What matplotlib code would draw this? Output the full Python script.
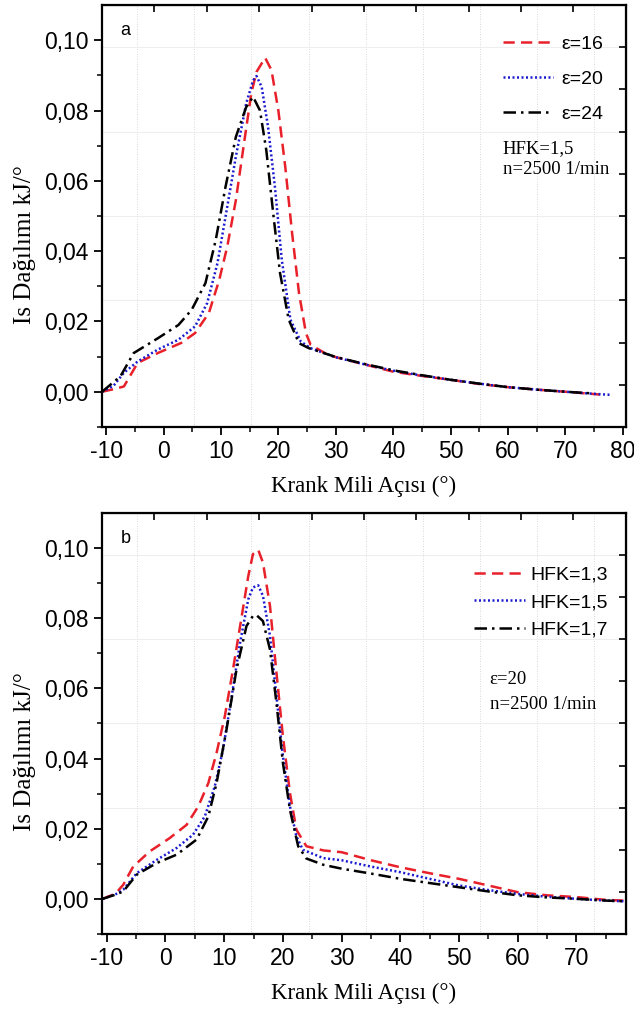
import numpy as np
import matplotlib
matplotlib.use('Agg')
import matplotlib.pyplot as plt

plt.rcParams['axes.unicode_minus'] = False

# panel a : compression ratio
xa_16 = [-10.7, -8.5, -6.9, -4.5, -1.0, 3.1, 5.5, 7.9, 9.7, 11.1, 12.6, 14.1, 15.3, 16.2, 17.7,
         18.8, 20.0, 21.2, 22.4, 23.6, 24.8, 25.6, 28.6, 31, 35, 40, 45, 50, 55, 60, 65, 70, 76]
ya_16 = [0, 0.0008, 0.0015, 0.0082, 0.011, 0.0139, 0.0167, 0.0224, 0.0318, 0.0413, 0.0545, 0.0716,
         0.085, 0.091, 0.095, 0.0915, 0.080, 0.064, 0.045, 0.028, 0.0167, 0.0134, 0.0105, 0.0094,
         0.0078, 0.0057, 0.0045, 0.0034, 0.0022, 0.0013, 0.0006, 0.0, -0.0008]
xa_20 = [-10.7, -8.7, -6.9, -4.5, -1, 2.6, 5.5, 7.6, 9.4, 10.8, 12.6, 14.4, 15.6, 16.2, 17.1, 18.2,
         19.4, 20.6, 22.1, 23.9, 25.6, 30, 35, 40, 45, 50, 55, 60, 65, 70, 75, 78]
ya_20 = [0, 0.0017, 0.0054, 0.0086, 0.012, 0.0148, 0.0186, 0.0252, 0.0366, 0.0498, 0.0669, 0.082,
         0.0886, 0.0898, 0.0867, 0.0754, 0.0583, 0.0375, 0.0205, 0.0143, 0.0124, 0.0098, 0.0078,
         0.006, 0.0046, 0.0034, 0.0023, 0.0013, 0.0006, 0.0, -0.0006, -0.0009]
xa_24 = [-10.7, -7.5, -5.2, -1, 2.6, 4.9, 7.3, 9.1, 10.8, 12.6, 14.4, 15.6, 16.8, 17.9, 19.1, 20.3,
         21.8, 23.6, 25.3, 30, 35, 40, 45, 50, 55, 60, 65, 70, 75]
ya_24 = [0, 0.0044, 0.011, 0.0152, 0.019, 0.0233, 0.0309, 0.0432, 0.0583, 0.0725, 0.081, 0.0839,
         0.080, 0.0687, 0.0508, 0.0337, 0.0205, 0.0138, 0.0124, 0.0099, 0.0079, 0.0061, 0.0047,
         0.0034, 0.0023, 0.0013, 0.0006, 0.0, -0.0005]

# panel b : HFK
xb_13 = [-10.7, -8.5, -7.2, -5.5, -2.7, 0.7, 3.6, 5.6, 7.3, 8.7, 10.1, 11.5, 12.9, 14.1, 14.9, 15.8,
         16.6, 17.8, 18.9, 20.0, 21.2, 22.3, 24.0, 26.9, 30, 35, 40, 45, 50, 55, 60, 65, 70, 75, 78]
yb_13 = [0, 0.0015, 0.004, 0.0092, 0.0135, 0.0173, 0.0211, 0.0264, 0.033, 0.0416, 0.052, 0.0654,
         0.0797, 0.092, 0.0983, 0.0995, 0.0959, 0.0835, 0.0645, 0.0464, 0.0302, 0.0197, 0.015,
         0.0138, 0.0133, 0.011, 0.009, 0.0073, 0.0057, 0.0038, 0.0019, 0.001, 0.0005, -0.0003, -0.0005]
xb_15 = [-10.7, -8.5, -7.2, -4.9, -1.5, 1.9, 4.7, 6.7, 8.4, 9.8, 11.2, 12.7, 14.1, 14.9, 15.8, 16.6,
         17.8, 18.9, 20.0, 21.2, 22.3, 23.4, 26.9, 30, 35, 40, 45, 50, 55, 60, 65, 70, 75, 78]
yb_15 = [0, 0.0013, 0.0026, 0.0073, 0.0111, 0.0145, 0.0183, 0.0235, 0.0321, 0.0426, 0.0569, 0.073,
         0.0854, 0.0888, 0.0894, 0.0864, 0.075, 0.0578, 0.0407, 0.0264, 0.0178, 0.014, 0.0116,
         0.011, 0.0092, 0.0076, 0.0057, 0.0038, 0.0025, 0.0014, 0.0006, 0.0, -0.0005, -0.0007]
xb_17 = [-10.7, -8.5, -7.2, -4.9, -1.5, 1.9, 5.3, 7.3, 8.7, 10.4, 12.1, 13.8, 14.9, 15.5, 16.6, 17.8,
         18.9, 20.0, 21.2, 22.6, 24.0, 26.9, 30, 35, 40, 45, 50, 55, 60, 65, 70, 75, 78]
yb_17 = [0, 0.0012, 0.0021, 0.0069, 0.0102, 0.0126, 0.0169, 0.0235, 0.033, 0.0483, 0.0654, 0.0778,
         0.0807, 0.0809, 0.0792, 0.0711, 0.0559, 0.0388, 0.0254, 0.015, 0.0115, 0.0097, 0.0086,
         0.0072, 0.0057, 0.0045, 0.0033, 0.0021, 0.001, 0.0004, 0.0, -0.0005, -0.0007]

labels_a = ['ε=16', 'ε=20', 'ε=24']
labels_b = ['HFK=1,3', 'HFK=1,5', 'HFK=1,7']
yticks = [0.0, 0.02, 0.04, 0.06, 0.08, 0.10]
ytick_labels = ['0,00', '0,02', '0,04', '0,06', '0,08', '0,10']

colors = ['#e8202a', '#1a1ad0', 'black']
styles = [(0, (4.5, 2.5)), (0, (0.8, 1.0)), (0, (5, 2, 1, 2))]

SANS = 'Liberation Sans'
SERIF = 'Liberation Serif'

fig = plt.figure(figsize=(6.34, 10.14), dpi=100)


def panel(rect, xs, ys, labels, xlim, xticks, tag):
    ax = fig.add_axes(rect)
    for x, y, lab, c, ls in zip(xs, ys, labels, colors, styles):
        ax.plot(x, y, color=c, linestyle=ls, lw=1.8, label=lab)
    ax.set_xlim(*xlim)
    ax.set_ylim(-0.01, 0.11)
    ax.set_xticks(xticks)
    ax.set_xticks(np.arange(-5, xlim[1], 10), minor=True)
    ax.set_yticks(yticks)
    ax.set_yticklabels(ytick_labels)
    ax.set_yticks(np.arange(-0.01, 0.11, 0.02), minor=True)
    ax.tick_params(which='major', direction='out', length=6, width=1.3, labelsize=16.5,
                   top=False, right=False)
    ax.tick_params(which='minor', direction='out', length=3.5, width=1.1,
                   top=False, right=False)
    for t in ax.get_xticklabels() + ax.get_yticklabels():
        t.set_fontfamily(SANS)
    for s in ax.spines.values():
        s.set_linewidth(1.6)

    # faint frame grid from the original plotting program
    for f in np.linspace(0.067, 0.94, 9):
        ax.plot([f, f], [0, 1], transform=ax.transAxes, color='#cccccc', lw=0.6,
                linestyle=(0, (1, 2)), zorder=0)
    for f in [0.3, 0.5, 0.7, 0.9]:
        ax.plot([0, 1], [f, f], transform=ax.transAxes, color='#eeeeee', lw=0.8, zorder=0)

    x0, x1 = xlim
    sx = ax.secondary_xaxis('top', functions=(lambda v: (v - x0) / (x1 - x0),
                                              lambda f: x0 + f * (x1 - x0)))
    sx.set_xticks(np.arange(0.1, 0.95, 0.1))
    sx.tick_params(direction='in', length=5, width=1.2, labeltop=False)
    sy = ax.secondary_yaxis('right', functions=(lambda v: (v + 0.01) / 0.12,
                                                lambda f: f * 0.12 - 0.01))
    sy.set_yticks(np.arange(0.1, 0.95, 0.1))
    sy.tick_params(direction='in', length=5, width=1.2, labelright=False)

    ax.set_xlabel('Krank Mili Açısı (°)', fontfamily=SERIF, fontsize=16.5, labelpad=9)
    ax.set_ylabel('Is Dağılımı kJ/°', fontfamily=SERIF, fontsize=18)
    ax.yaxis.set_label_coords(-0.126, 0.433)
    ax.text(0.035, 0.96, tag, transform=ax.transAxes, fontfamily=SANS, fontsize=13,
            va='top', ha='left')
    return ax


ax_a = panel([0.161, 0.579, 0.826, 0.416], [xa_16, xa_20, xa_24], [ya_16, ya_20, ya_24],
             labels_a, (-10.7, 80.5), np.arange(-10, 81, 10), 'a')
ax_a.legend(loc='upper right', bbox_to_anchor=(0.99, 0.97), frameon=False,
            handlelength=2.6, handletextpad=0.4, labelspacing=0.9,
            prop={'family': SANS, 'size': 14})
ax_a.text(0.765, 0.635, 'HFK=1,5\nn=2500 1/min', transform=ax_a.transAxes,
          fontfamily=SERIF, fontsize=13.5, va='center', ha='left', linespacing=1.35)

ax_b = panel([0.161, 0.079, 0.826, 0.415], [xb_13, xb_15, xb_17], [yb_13, yb_15, yb_17],
             labels_b, (-10.8, 78.4), np.arange(-10, 71, 10), 'b')
ax_b.legend(loc='upper right', bbox_to_anchor=(1.0, 0.915), frameon=False,
            handlelength=2.6, handletextpad=0.3, labelspacing=0.5,
            prop={'family': SANS, 'size': 14})
ax_b.text(0.74, 0.574, 'ε=20\nn=2500 1/min', transform=ax_b.transAxes,
          fontfamily=SERIF, fontsize=13.5, va='center', ha='left', linespacing=1.6)

fig.savefig('out.png', dpi=100)
